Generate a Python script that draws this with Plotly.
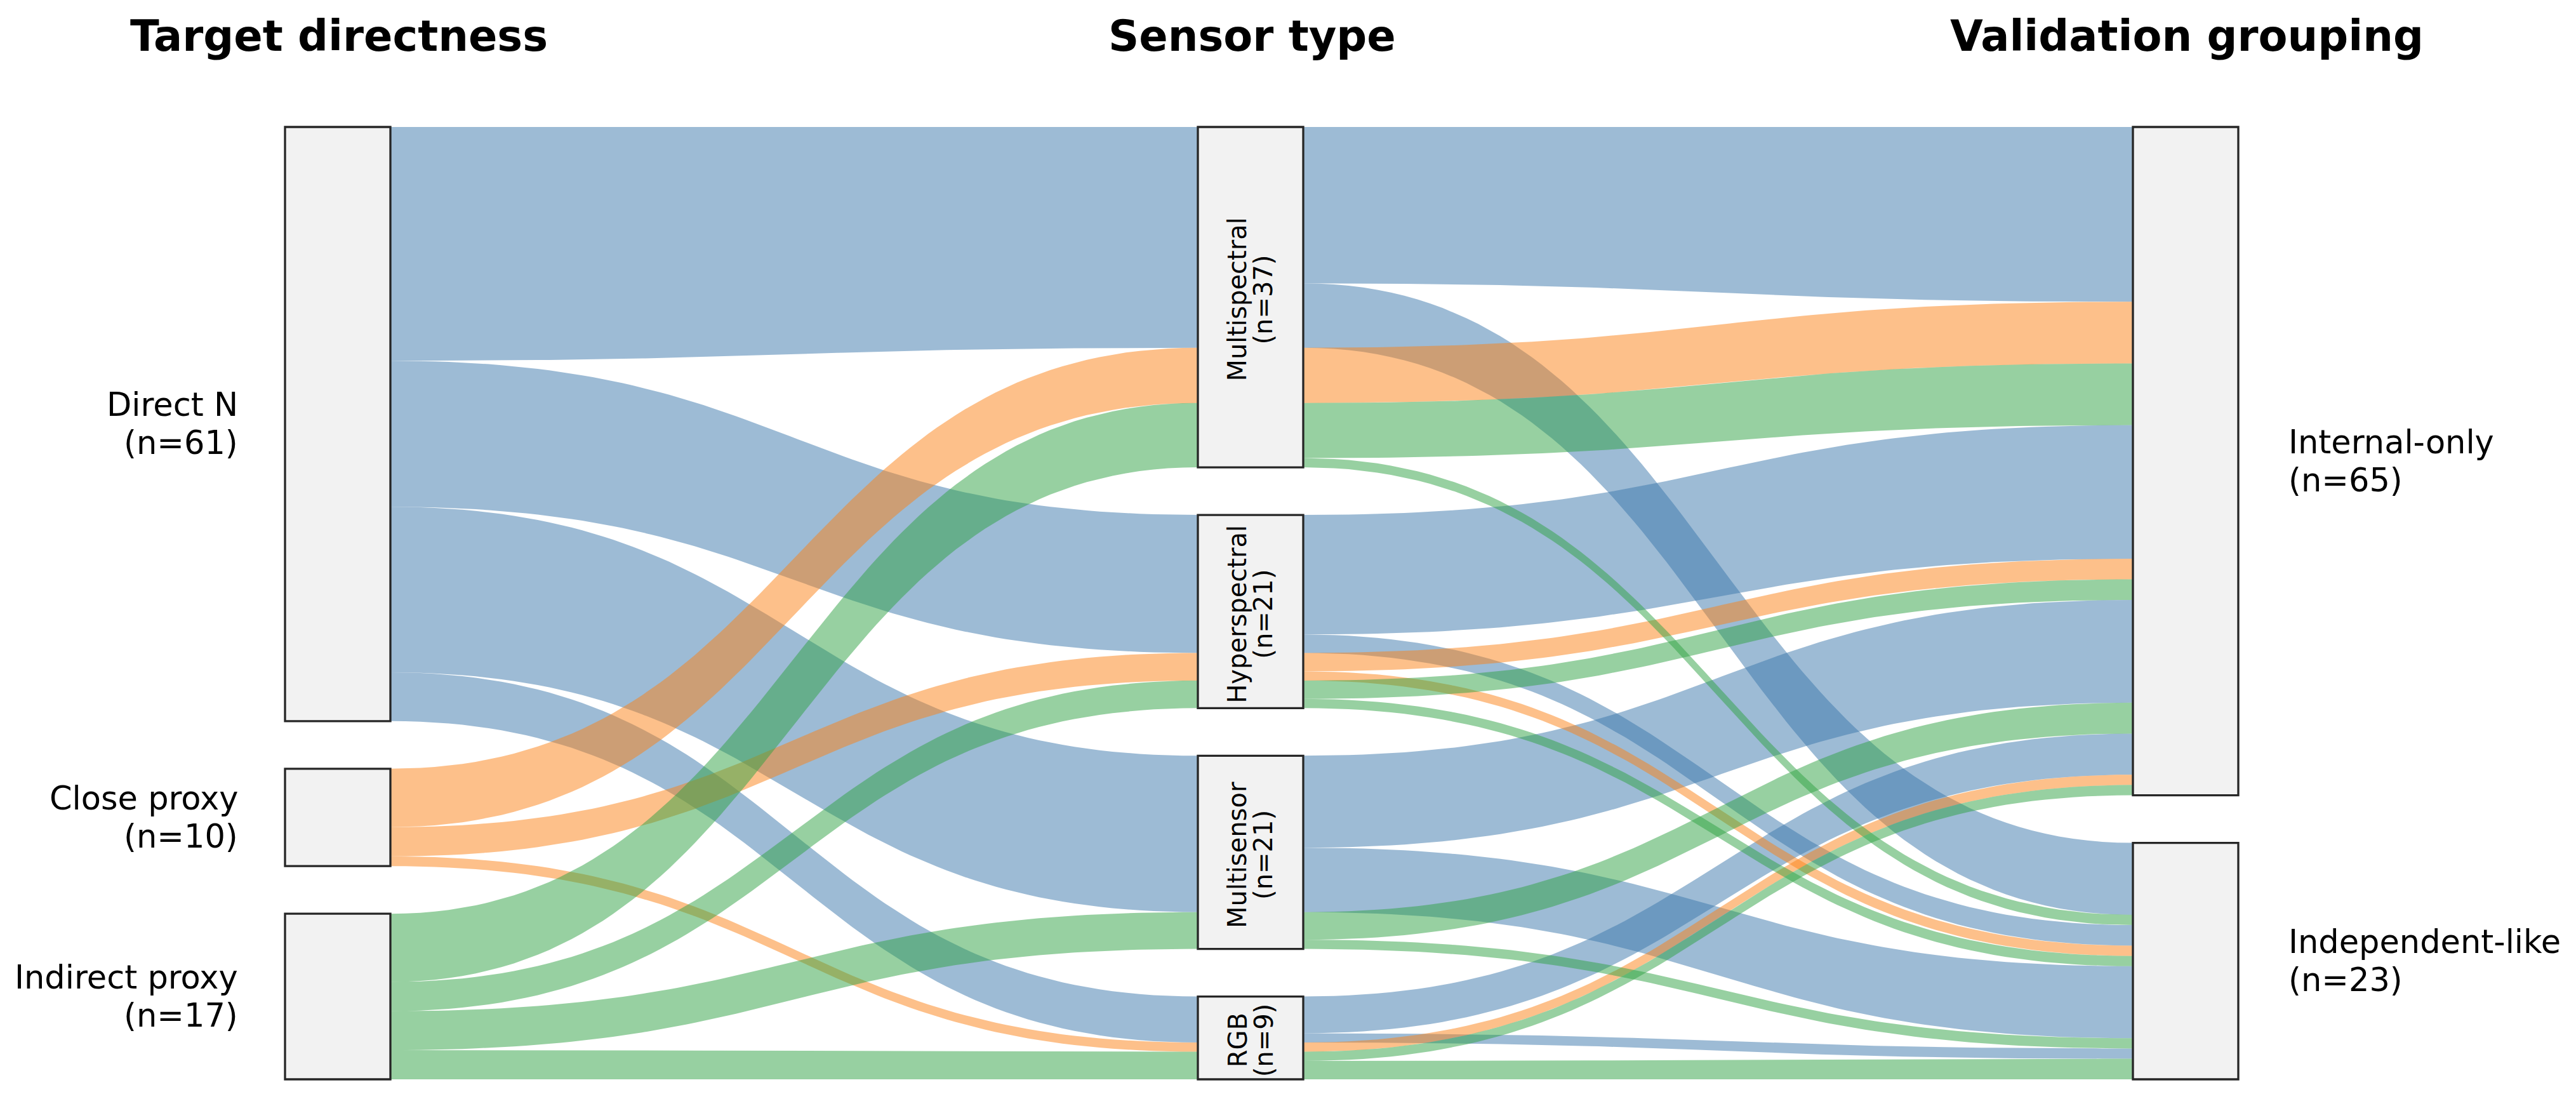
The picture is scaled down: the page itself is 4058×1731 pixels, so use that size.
import numpy as np
import plotly.graph_objects as go

# categories of the three columns
targets = ["Direct N", "Close proxy", "Indirect proxy"]
sensors = ["Multispectral", "Hyperspectral", "Multisensor", "RGB"]
groups = ["Internal-only", "Independent-like"]
column_titles = ["Target directness", "Sensor type", "Validation grouping"]

# studies per sensor type, split [Internal-only, Independent-like]
direct_n = [[17, 7], [13, 2], [10, 7], [4, 1]]
close_proxy = [[6, 0], [2, 1], [0, 0], [1, 0]]
indirect_proxy = [[6, 1], [2, 1], [3, 1], [1, 2]]

# one colour per target directness
target_colors = ["rgba(59,119,171,0.5)", "rgba(251,129,21,0.5)", "rgba(47,161,67,0.5)"]

# layout (page pixels); the html body adds an 8px margin, so the axes are
# shifted to keep page pixel == data unit
W, H = 4058, 1731
PAD = 8
COL_X = [532, 1970, 3443]
NODE_W = 166
TOP, BOTTOM, GAP = 200, 1700, 75
FONT = "DejaVu Sans"

paths = np.array([direct_n, close_proxy, indirect_proxy])  # target x sensor x group
ts = paths.sum(axis=2)
totals = [paths.sum(axis=(1, 2)), paths.sum(axis=(0, 2)), paths.sum(axis=(0, 1))]


def stack(tot):
    """node tops + px per study for one column"""
    scale = (BOTTOM - TOP - GAP * (len(tot) - 1)) / tot.sum()
    tops, y = [], TOP
    for v in tot:
        tops.append(y)
        y += v * scale + GAP
    return tops, scale


cols = [stack(t) for t in totals]


def ribbon(fig, x0, x1, a0, b0, a1, b1, color):
    t = np.linspace(0, 1, 80)
    xm = (x0 + x1) / 2
    bx = (1 - t) ** 3 * x0 + 3 * (1 - t) ** 2 * t * xm + 3 * (1 - t) * t ** 2 * xm + t ** 3 * x1
    s = 3 * (1 - t) * t ** 2 + t ** 3
    top = a0 + (a1 - a0) * s
    bot = b0 + (b1 - b0) * s
    fig.add_trace(go.Scatter(
        x=np.concatenate([bx, bx[::-1]]), y=np.concatenate([top, bot[::-1]]),
        mode="lines", fill="toself", fillcolor=color, line=dict(width=0),
        hoverinfo="skip", showlegend=False))


fig = go.Figure()

# stage 1: target -> sensor (ordered by sensor on the left, by target in the middle)
(l_tops, l_sc), (m_tops, m_sc), (r_tops, r_sc) = cols
left_start = {}
for t in range(len(targets)):
    y = l_tops[t]
    for s in range(len(sensors)):
        left_start[(t, s)] = y
        y += ts[t, s] * l_sc
mid_in = {}
for s in range(len(sensors)):
    y = m_tops[s]
    for t in range(len(targets)):
        mid_in[(t, s)] = y
        y += ts[t, s] * m_sc
x0 = COL_X[0] + NODE_W / 2
x1 = COL_X[1] - NODE_W / 2
for t in range(len(targets)):
    for s in range(len(sensors)):
        v = ts[t, s]
        if v == 0:
            continue
        a0 = left_start[(t, s)]
        a1 = mid_in[(t, s)]
        ribbon(fig, x0, x1, a0, a0 + v * l_sc, a1, a1 + v * m_sc, target_colors[t])

# stage 2: sensor -> validation, kept per target so colours carry through
mid_out = {}
for s in range(len(sensors)):
    y = m_tops[s]
    for t in range(len(targets)):
        for g in range(len(groups)):
            mid_out[(t, s, g)] = y
            y += paths[t, s, g] * m_sc
right_in = {}
for g in range(len(groups)):
    y = r_tops[g]
    for s in range(len(sensors)):
        for t in range(len(targets)):
            right_in[(t, s, g)] = y
            y += paths[t, s, g] * r_sc
x0 = COL_X[1] + NODE_W / 2
x1 = COL_X[2] - NODE_W / 2
for t in range(len(targets)):
    for s in range(len(sensors)):
        for g in range(len(groups)):
            v = paths[t, s, g]
            if v == 0:
                continue
            a0 = mid_out[(t, s, g)]
            a1 = right_in[(t, s, g)]
            ribbon(fig, x0, x1, a0, a0 + v * m_sc, a1, a1 + v * r_sc, target_colors[t])

# nodes + labels
names = [targets, sensors, groups]
for c in range(3):
    tops, sc = cols[c]
    for i, name in enumerate(names[c]):
        n = int(totals[c][i])
        y0, y1 = tops[i], tops[i] + n * sc
        fig.add_shape(type="rect", x0=COL_X[c] - NODE_W / 2, x1=COL_X[c] + NODE_W / 2,
                      y0=y0, y1=y1, fillcolor="#f2f2f2",
                      line=dict(color="#262626", width=3.3), layer="above")
        yc = (y0 + y1) / 2
        lines = [name, f"(n={n})"]
        if c == 1:
            for k, txt in enumerate(lines):
                fig.add_annotation(x=COL_X[c] + (k - 0.5) * 41, y=yc + 4, text=txt, textangle=-90,
                                   showarrow=False, xanchor="center", yanchor="middle",
                                   font=dict(family=FONT, size=40, color="black"))
        else:
            xa = "right" if c == 0 else "left"
            xt = COL_X[c] - NODE_W / 2 - 72 if c == 0 else COL_X[c] + NODE_W / 2 + 77
            for k, txt in enumerate(lines):
                fig.add_annotation(x=xt, y=yc + (k - 0.5) * 60, text=txt, showarrow=False,
                                   xanchor=xa, yanchor="middle", align=xa,
                                   font=dict(family=FONT, size=51, color="black"))

for c, title in enumerate(column_titles):
    fig.add_annotation(x=COL_X[c] + 2, y=57, text=title, showarrow=False,
                       xanchor="center", yanchor="middle",
                       font=dict(family=FONT, size=67, color="black", weight="bold"))

fig.update_xaxes(range=[PAD, W - PAD], visible=False, fixedrange=True)
fig.update_yaxes(range=[H - PAD, PAD], visible=False, fixedrange=True)
fig.update_layout(width=W - 2 * PAD, height=H - 2 * PAD, margin=dict(l=0, r=0, t=0, b=0),
                  plot_bgcolor="white", paper_bgcolor="white", showlegend=False)

fig.write_html("out.html")
